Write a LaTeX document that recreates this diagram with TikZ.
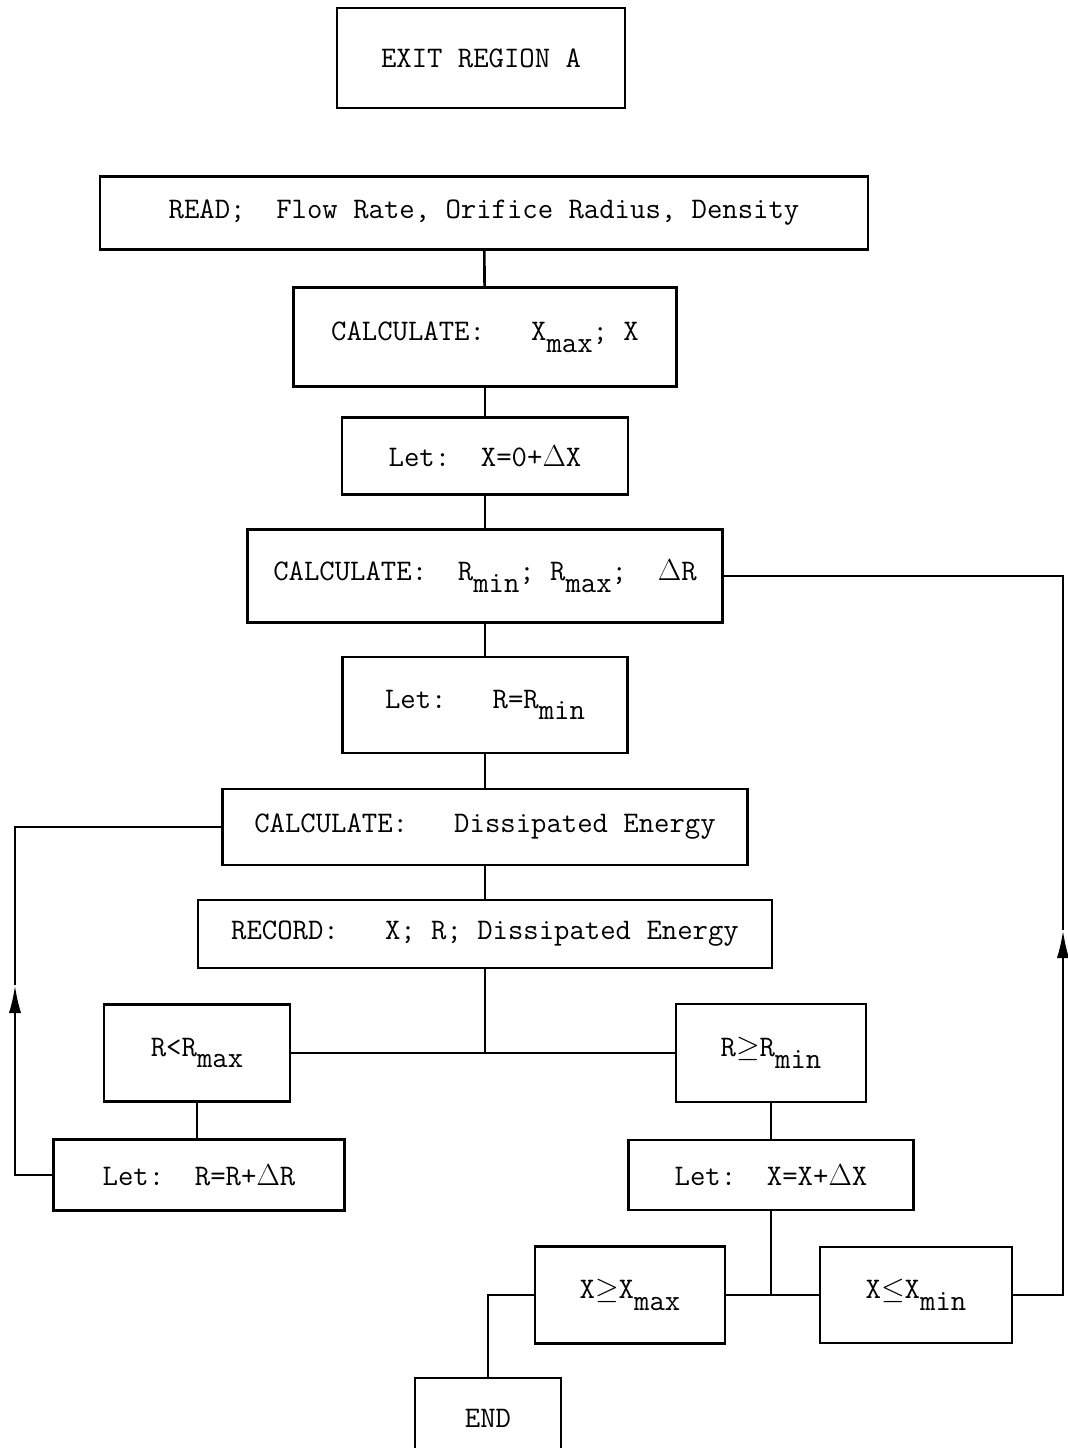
\documentclass[tikz,border=0pt]{standalone}
\usepackage{fontspec}
\usetikzlibrary{arrows.meta}

\tikzstyle{box} = [draw, inner sep=2pt, font=\ttfamily\fontsize{17}{20}\selectfont]
\tikzstyle{link} = [draw, line width=1.5pt]
\tikzstyle{back} = [draw, line width=1.5pt, -{Latex[length=16pt,width=7pt]}]
\newcommand{\lo}[1]{\raisebox{-0.9ex}{#1}}

\begin{document}
\begin{tikzpicture}[x=0.02cm,y=-0.02cm,line width=1.5pt]
	\useasboundingbox (0,0) rectangle (1068,1448);
	\node[box,minimum width=5.76cm,minimum height=2cm] (exit) at (481,58) {EXIT REGION A};
	\node[box,minimum width=15.36cm,minimum height=1.46cm] (read) at (484,213) {READ;\ \ Flow Rate, Orifice Radius, Density};
	\node[box,minimum width=7.66cm,minimum height=1.98cm] (calcx) at (485,337) {CALCULATE:\ \ \ X\lo{max};\ X};
	\node[box,minimum width=5.72cm,minimum height=1.54cm] (letx) at (485,456) {Let:\ \ X=0+$\Delta$X};
	\node[box,minimum width=9.5cm,minimum height=1.86cm] (calcr) at (485,576) {CALCULATE:\ \ R\lo{min};\ R\lo{max};\ \ $\Delta$R};
	\node[box,minimum width=5.7cm,minimum height=1.92cm] (letr) at (485,705) {Let:\ \ \ R=R\lo{min}};
	\node[box,minimum width=10.5cm,minimum height=1.52cm] (calcd) at (485,827) {CALCULATE:\ \ \ Dissipated Energy};
	\node[box,minimum width=11.48cm,minimum height=1.36cm] (rec) at (485,934) {RECORD:\ \ \ X; R; Dissipated Energy};
	\node[box,minimum width=3.72cm,minimum height=1.94cm] (rlt) at (197,1053) {R<R\lo{max}};
	\node[box,minimum width=3.8cm,minimum height=1.96cm] (rge) at (771,1053) {R$\geq$R\lo{min}};
	\node[box,minimum width=5.82cm,minimum height=1.42cm] (letrr) at (199,1175) {Let:\ \ R=R+$\Delta$R};
	\node[box,minimum width=5.7cm,minimum height=1.4cm] (letxx) at (771,1175) {Let:\ \ X=X+$\Delta$X};
	\node[box,minimum width=3.8cm,minimum height=1.94cm] (xge) at (630,1295) {X$\geq$X\lo{max}};
	\node[box,minimum width=3.84cm,minimum height=1.92cm] (xle) at (916,1295) {X$\leq$X\lo{min}};
	\node[box,minimum width=2.92cm,minimum height=1.6cm] (fin) at (488,1418) {END};
	\coordinate (split) at (485,1053);
	\coordinate (join) at (771,1295);
	\coordinate (up1) at (15,985);
	\coordinate (up2) at (1063,930);
	% main column
	\draw[link] (read) -- (calcx);
	\draw[link] (calcx) -- (letx);
	\draw[link] (letx) -- (calcr);
	\draw[link] (calcr) -- (letr);
	\draw[link] (letr) -- (calcd);
	\draw[link] (calcd) -- (rec);
	\draw[link] (rec) -- (split);
	\draw[link] (rlt) -- (rge);
	\draw[link] (rlt.south) -- (rlt.south |- letrr.north);
	\draw[link] (rge) -- (letxx);
	\draw[link] (letxx) -- (join);
	\draw[link] (xge) -- (xle);
	\draw[link] (xge.west) -| (fin.north);
	% loops back
	\draw[back] (letrr.west) -| (up1);
	\draw[link] (up1) |- (calcd.west);
	\draw[back] (xle.east) -| (up2);
	\draw[link] (up2) |- (calcr.east);
\end{tikzpicture}
\end{document}
